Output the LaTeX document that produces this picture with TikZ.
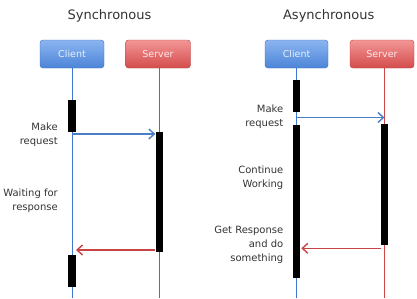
\documentclass[tikz,border=0pt]{standalone}
\usepackage{fontspec}
\setmainfont{DejaVu Sans}
\usetikzlibrary{arrows.meta}

\definecolor{clientTop}{HTML}{8BB5F0}
\definecolor{clientBot}{HTML}{4C84D8}
\definecolor{clientLine}{HTML}{3C78CC}
\definecolor{serverTop}{HTML}{F39696}
\definecolor{serverBot}{HTML}{D44C4C}
\definecolor{serverLine}{HTML}{CC4646}
\definecolor{reqBlue}{HTML}{4A7EC6}
\definecolor{resRed}{HTML}{C84444}
\definecolor{ink}{HTML}{333333}

\tikzset{
  actor/.style={rounded corners=3pt, minimum height=28pt, inner sep=0pt,
    line width=0.4pt, font=\fontsize{9.5}{11}\selectfont},
  client/.style={actor, top color=clientTop, bottom color=clientBot,
    draw=clientBot!85!black, text=white!80!clientTop},
  server/.style={actor, top color=serverTop, bottom color=serverBot,
    draw=serverBot!85!black, text=white!80!serverTop},
  bar/.style={fill=black, draw=none, minimum width=7.5pt, inner sep=0pt},
  heading/.style={font=\fontsize{13}{15}\selectfont, text=ink},
  note/.style={font=\fontsize{10}{14}\selectfont, text=ink, align=right,
    anchor=east, inner sep=0pt},
  clife/.style={clientLine, line width=1pt},
  slife/.style={serverLine, line width=1pt},
  msg/.style={line width=1.4pt, -{Straight Barb[length=5.5pt,width=10pt,line width=1.4pt]}},
  req/.style={msg, reqBlue},
  res/.style={msg, resRed},
}

\begin{document}
\begin{tikzpicture}[x=1pt, y=-1pt]
  \useasboundingbox (0,0) rectangle (417,298);

  % ---------- Synchronous ----------
  \node[heading] (stitle) at (109.5,16) {Synchronous};
  \node[client, minimum width=64pt] (sclient) at (72,54) {Client};
  \node[server, minimum width=65pt] (sserver) at (158,54) {Server};
  \coordinate (sclientEnd) at (72,298);
  \coordinate (sserverEnd) at (159,298);
  \draw[clife] (sclient.south -| sclientEnd) -- (sclientEnd);
  \draw[slife] (sserver.south -| sserverEnd) -- (sserverEnd);

  \node[bar, minimum height=32pt] (scbarA) at (72,116) {};
  \node[bar, minimum height=120pt] (ssbar) at (159.3,192) {};
  \node[bar, minimum height=32pt] (scbarB) at (72,271) {};

  \coordinate (sreqFrom) at (72.5,134);
  \coordinate (sresTo) at (76,250);
  \draw[req] (sreqFrom) -- (sreqFrom -| ssbar.west);
  \draw[res] (sresTo -| ssbar.west) -- (sresTo);

  \node[note] (smake) at (58,134.5) {Make\\request};
  \node[note] (swait) at (58,200.5) {Waiting for\\response};

  % ---------- Asynchronous ----------
  \node[heading] (atitle) at (328.7,16) {Asynchronous};
  \node[client, minimum width=63pt] (aclient) at (296.5,54) {Client};
  \node[server, minimum width=64pt] (aserver) at (382,54) {Server};
  \coordinate (aclientEnd) at (296.5,298);
  \coordinate (aserverEnd) at (384.5,298);
  \draw[clife] (aclient.south -| aclientEnd) -- (aclientEnd);
  \draw[slife] (aserver.south -| aserverEnd) -- (aserverEnd);

  \node[bar, minimum height=32pt] (acbarA) at (296.5,95.5) {};
  \node[bar, minimum height=153pt] (acbarB) at (296.5,201.3) {};
  \node[bar, minimum height=121pt] (asbar) at (384.7,184.5) {};

  \coordinate (areqFrom) at (297,117.5);
  \coordinate (aresTo) at (301.3,248.3);
  \draw[req] (areqFrom) -- (areqFrom -| aserverEnd);
  \draw[res] (aresTo -| asbar.west) -- (aresTo);

  \node[note] (amake) at (283.5,117) {Make\\request};
  \node[note] (awork) at (283.5,177.7) {Continue\\Working};
  \node[note] (aget) at (283.5,245.3) {Get Response\\and do\\something};
\end{tikzpicture}
\end{document}
